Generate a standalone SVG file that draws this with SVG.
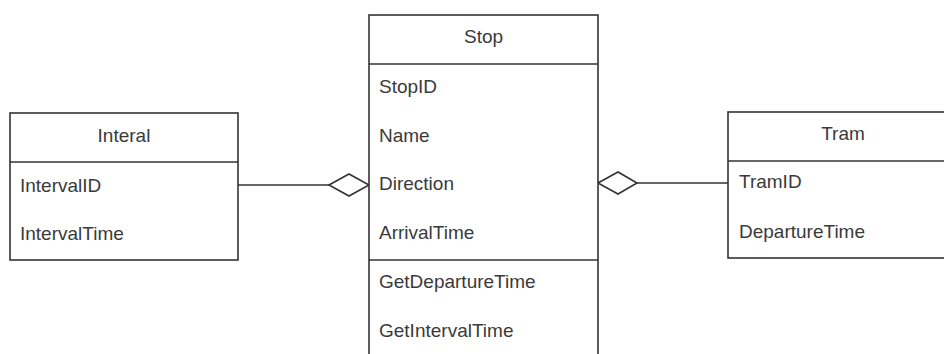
<svg xmlns="http://www.w3.org/2000/svg" width="944" height="354" viewBox="0 0 944 354">
  <style>
    .box { fill: #ffffff; stroke: #333333; stroke-width: 1.6; }
    .sep { stroke: #333333; stroke-width: 1.6; fill: none; }
    .t { font-family: "Liberation Sans", Arial, sans-serif; font-size: 19px; fill: #3a3a3a; }
    .h { text-anchor: middle; }
    .edge { stroke: #333333; stroke-width: 1.6; fill: none; }
    .agg { fill: #ffffff; stroke: #333333; stroke-width: 1.6; }
  </style>
  <rect width="944" height="354" fill="#ffffff"/>

  <g id="connectors">
    <!-- Interal to Stop aggregation -->
    <line class="edge" x1="238" y1="185" x2="329" y2="185"/>
    <polygon class="agg" points="329,185 349,174 369,185 349,196"/>
    <!-- Tram to Stop aggregation -->
    <line class="edge" x1="637" y1="183" x2="728" y2="183"/>
    <polygon class="agg" points="598,183 618,172 637,183 618,194"/>
  </g>

  <g id="interal">
    <rect class="box" x="10" y="113" width="228" height="147"/>
    <line class="sep" x1="10" y1="162" x2="238" y2="162"/>
    <text class="t h" x="124" y="142">Interal</text>
    <text class="t" x="20" y="192">IntervalID</text>
    <text class="t" x="20" y="240">IntervalTime</text>
  </g>

  <g id="stop">
    <rect class="box" x="369" y="15" width="229" height="350"/>
    <line class="sep" x1="369" y1="64" x2="598" y2="64"/>
    <line class="sep" x1="369" y1="260" x2="598" y2="260"/>
    <text class="t h" x="483.5" y="43">Stop</text>
    <text class="t" x="379" y="93">StopID</text>
    <text class="t" x="379" y="142">Name</text>
    <text class="t" x="379" y="190">Direction</text>
    <text class="t" x="379" y="239">ArrivalTime</text>
    <text class="t" x="379" y="288">GetDepartureTime</text>
    <text class="t" x="379" y="337">GetIntervalTime</text>
  </g>

  <g id="tram">
    <rect class="box" x="728" y="112" width="230" height="146"/>
    <line class="sep" x1="728" y1="161" x2="958" y2="161"/>
    <text class="t h" x="843" y="140">Tram</text>
    <text class="t" x="739" y="188">TramID</text>
    <text class="t" x="739" y="238">DepartureTime</text>
  </g>
</svg>
